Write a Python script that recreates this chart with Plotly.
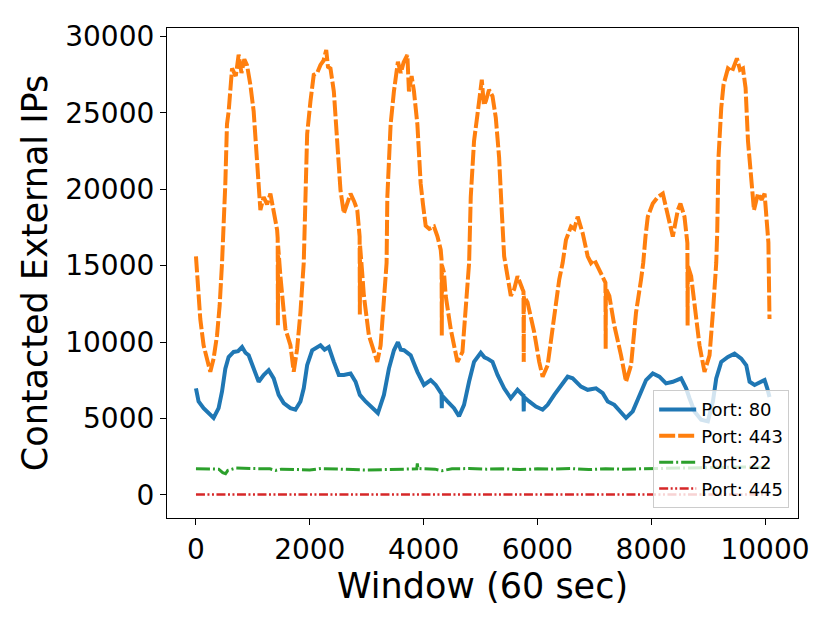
import plotly.graph_objects as go

# ---- Data ----
# Port 443 (orange, dashed)
windows_443 = [0, 40, 76, 134, 194, 252, 310, 370, 416, 458, 516, 545, 575, 634, 700, 750, 800, 850, 898,
               956, 1014, 1073, 1132, 1190, 1250, 1308, 1366, 1426, 1436, 1440, 1444, 1484, 1572, 1660, 1718,
               1778, 1836, 1894, 1924, 1954, 2012, 2070, 2130, 2188, 2240, 2289, 2320, 2364, 2423, 2482, 2540,
               2599, 2660, 2716, 2780, 2835, 2876, 2880, 2884, 2921, 2951, 3039, 3127, 3186, 3245, 3303, 3350,
               3363, 3421, 3479, 3549, 3600, 3650, 3715, 3743, 3790, 3831, 3891, 3949, 3990, 4037, 4100, 4183,
               4243, 4301, 4316, 4320, 4324, 4359, 4389, 4477, 4595, 4683, 4741, 4800, 4829, 4887, 4947, 5005,
               5023, 5060, 5093, 5150, 5211, 5269, 5327, 5370, 5416, 5475, 5533, 5592, 5651, 5739, 5756, 5760,
               5764, 5827, 5944, 6032, 6092, 6180, 6268, 6384, 6444, 6502, 6590, 6650, 6708, 6796, 6884, 6942,
               7000, 7060, 7118, 7196, 7200, 7204, 7264, 7352, 7470, 7558, 7646, 7734, 7822, 7860, 7900, 7940,
               8028, 8116, 8204, 8292, 8380, 8468, 8514, 8585, 8636, 8640, 8644, 8702, 8761, 8849, 8937, 9025,
               9085, 9143, 9160, 9183, 9231, 9271, 9349, 9420, 9507, 9560, 9613, 9659, 9701, 9759, 9806, 9877,
               9940, 9993, 10040, 10060, 10079]
ips_443 = [15600, 13300, 11500, 9780, 8910, 8050, 8910, 10430, 12370, 15170, 20360, 24250, 25100, 27900, 27400,
           28800, 27600, 28500, 28100, 26830, 25100, 21650, 18630, 19490, 19000, 19710, 18630, 17330, 16800, 11100,
           16300, 14300, 10850, 9800, 8050, 9560, 11940, 15170, 19920, 23600, 25750, 27480, 27600, 28130, 28400,
           29100, 28000, 27900, 26400, 22740, 19920, 18410, 19200, 19710, 19200, 18630, 16900, 11800, 16300, 14530,
           13020, 10430, 9350, 8700, 9780, 13020, 15170, 19490, 24250, 26400, 28340, 27600, 28300, 28780, 26400,
           27400, 26400, 24250, 20360, 19000, 17600, 17400, 17550, 16920, 16040, 15400, 10430, 15000, 14530, 13020,
           10850, 8700, 9350, 11940, 15170, 19490, 23160, 24890, 27050, 27160, 25500, 25750, 26500, 26080, 24680,
           22090, 18850, 15610, 14310, 13020, 13450, 14310, 13450, 13300, 8700, 13000, 12590, 10640, 8700, 7730,
           8480, 10850, 14090, 15170, 16680, 17550, 17400, 18200, 17120, 15610, 15170, 15390, 14900, 14530, 13880,
           9560, 13500, 13020, 11080, 9130, 7400, 8480, 11940, 14090, 15170, 16900, 18200, 19060, 19490, 19710,
           18200, 16900, 18630, 19060, 18200, 16470, 11080, 15000, 14310, 12370, 9780, 8050, 9130, 11940, 15170,
           17120, 22090, 25320, 26830, 27900, 27700, 28560, 27800, 27900, 26620, 23160, 21000, 18630, 19710, 19300,
           19710, 17770, 16500, 11500]

# Port 80 (blue, solid)
windows_80 = [0, 46, 134, 222, 310, 398, 458, 516, 574, 662, 740, 810, 870, 926, 1014, 1102, 1190, 1278, 1366,
              1454, 1542, 1660, 1748, 1836, 1894, 1954, 2042, 2110, 2188, 2260, 2334, 2423, 2511, 2599, 2717,
              2805, 2880, 2981, 3099, 3197, 3303, 3391, 3479, 3549, 3600, 3655, 3773, 3891, 4007, 4125, 4213,
              4316, 4320, 4324, 4419, 4535, 4623, 4711, 4799, 4887, 5005, 5070, 5123, 5211, 5300, 5416, 5533,
              5651, 5739, 5756, 5760, 5764, 5856, 5974, 6092, 6180, 6296, 6414, 6532, 6620, 6766, 6884, 7030,
              7148, 7236, 7352, 7470, 7558, 7676, 7792, 7910, 8028, 8144, 8261, 8380, 8526, 8614, 8673, 8761,
              8877, 8996, 9085, 9143, 9231, 9349, 9465, 9583, 9671, 9729, 9817, 9935, 9993, 10040, 10079]
ips_80 = [6970, 6110, 5670, 5350, 5030, 5670, 6760, 8260, 9020, 9350, 9400, 9670, 9300, 9130, 8260, 7400, 7840,
          8160, 7620, 6540, 6000, 5670, 5570, 6110, 6970, 8480, 9460, 9600, 9780, 9500, 9670, 8700, 7840, 7840,
          7940, 7400, 6540, 6110, 5670, 5350, 6540, 8260, 9460, 9990, 9500, 9460, 9130, 8050, 7190, 7510, 7190,
          6600, 5670, 6500, 6110, 5670, 5140, 5890, 7400, 8700, 9300, 9000, 8910, 8700, 7840, 6970, 6320, 6870,
          6540, 6500, 5460, 6400, 6110, 5780, 5570, 5890, 6540, 7190, 7730, 7620, 7080, 6870, 6970, 6650, 6110,
          5890, 5350, 5030, 5460, 6540, 7510, 7940, 7730, 7290, 7400, 7620, 6970, 6320, 5460, 4920, 4810, 6110,
          7620, 8700, 9020, 9240, 8910, 8480, 7400, 7190, 7400, 7510, 6970, 6400]

# Port 22 (green, dash-dot)
windows_22 = [0, 200, 400, 470, 520, 560, 700, 1000, 1300, 1400, 1500, 1800, 2000, 2200, 2500, 2800, 3000,
              3300, 3600, 3880, 3890, 3900, 4200, 4320, 4500, 4800, 5100, 5400, 5700, 6000, 6300, 6600, 6900,
              7200, 7500, 7800, 8100, 8400, 8700, 9000, 9300, 9600, 10079]
ips_22 = [1700, 1700, 1680, 1450, 1380, 1600, 1750, 1720, 1700, 1600, 1680, 1650, 1620, 1720, 1680, 1600, 1620,
          1650, 1680, 1700, 2050, 1720, 1680, 1580, 1700, 1720, 1680, 1700, 1650, 1700, 1680, 1720, 1650, 1700,
          1680, 1700, 1720, 1750, 1780, 1800, 1800, 1820, 1800]

# Port 445 (red, dash-dot-dot)
windows_445 = [0, 2000, 4000, 6000, 8000, 10079]
ips_445 = [20, 20, 20, 20, 20, 20]

x_ticks = [0, 2000, 4000, 6000, 8000, 10000]
y_ticks = [0, 5000, 10000, 15000, 20000, 25000, 30000]

FONT = "DejaVu Sans"

fig = go.Figure()
fig.add_trace(go.Scatter(x=windows_80, y=ips_80, mode="lines", name="Port: 80",
                         line=dict(color="#1f77b4", width=4)))
fig.add_trace(go.Scatter(x=windows_443, y=ips_443, mode="lines", name="Port: 443",
                         line=dict(color="#ff7f0e", width=4, dash="16px,3px")))
fig.add_trace(go.Scatter(x=windows_22, y=ips_22, mode="lines", name="Port: 22",
                         line=dict(color="#2ca02c", width=3, dash="14px,3px,2px,3px")))
fig.add_trace(go.Scatter(x=windows_445, y=ips_445, mode="lines", name="Port: 445",
                         line=dict(color="#d62728", width=2.5, dash="9px,2.5px,2px,2.5px,2px,2.5px")))

axis_common = dict(showline=True, mirror=True, linecolor="black", linewidth=1.2,
                   ticks="outside", ticklen=6, tickwidth=1.2, tickcolor="black",
                   showgrid=False, zeroline=False,
                   tickfont=dict(family=FONT, size=28, color="black"))

# page has an 8px body margin, so margins are offset by 8px
fig.update_layout(
    width=830, height=623, autosize=False,
    margin=dict(l=159, r=40, t=15, b=113),
    paper_bgcolor="white", plot_bgcolor="white",
    font=dict(family=FONT, color="black"),
    xaxis=dict(range=[-509, 10580], tickvals=x_ticks, ticktext=[str(v) for v in x_ticks],
               title=dict(text="Window (60 sec)", font=dict(family=FONT, size=35, color="black"), standoff=5),
               **axis_common),
    yaxis=dict(range=[-1516, 30545], tickvals=y_ticks, ticktext=[str(v) for v in y_ticks],
               title=dict(text="Contacted External IPs", font=dict(family=FONT, size=35, color="black"), standoff=6),
               **axis_common),
    legend=dict(x=0.986, y=0.02, xanchor="right", yanchor="bottom",
                bgcolor="rgba(255,255,255,0.8)", bordercolor="#cccccc", borderwidth=1,
                font=dict(family=FONT, size=18, color="black"), itemwidth=37),
    showlegend=True,
)

fig.write_html("out.html")
